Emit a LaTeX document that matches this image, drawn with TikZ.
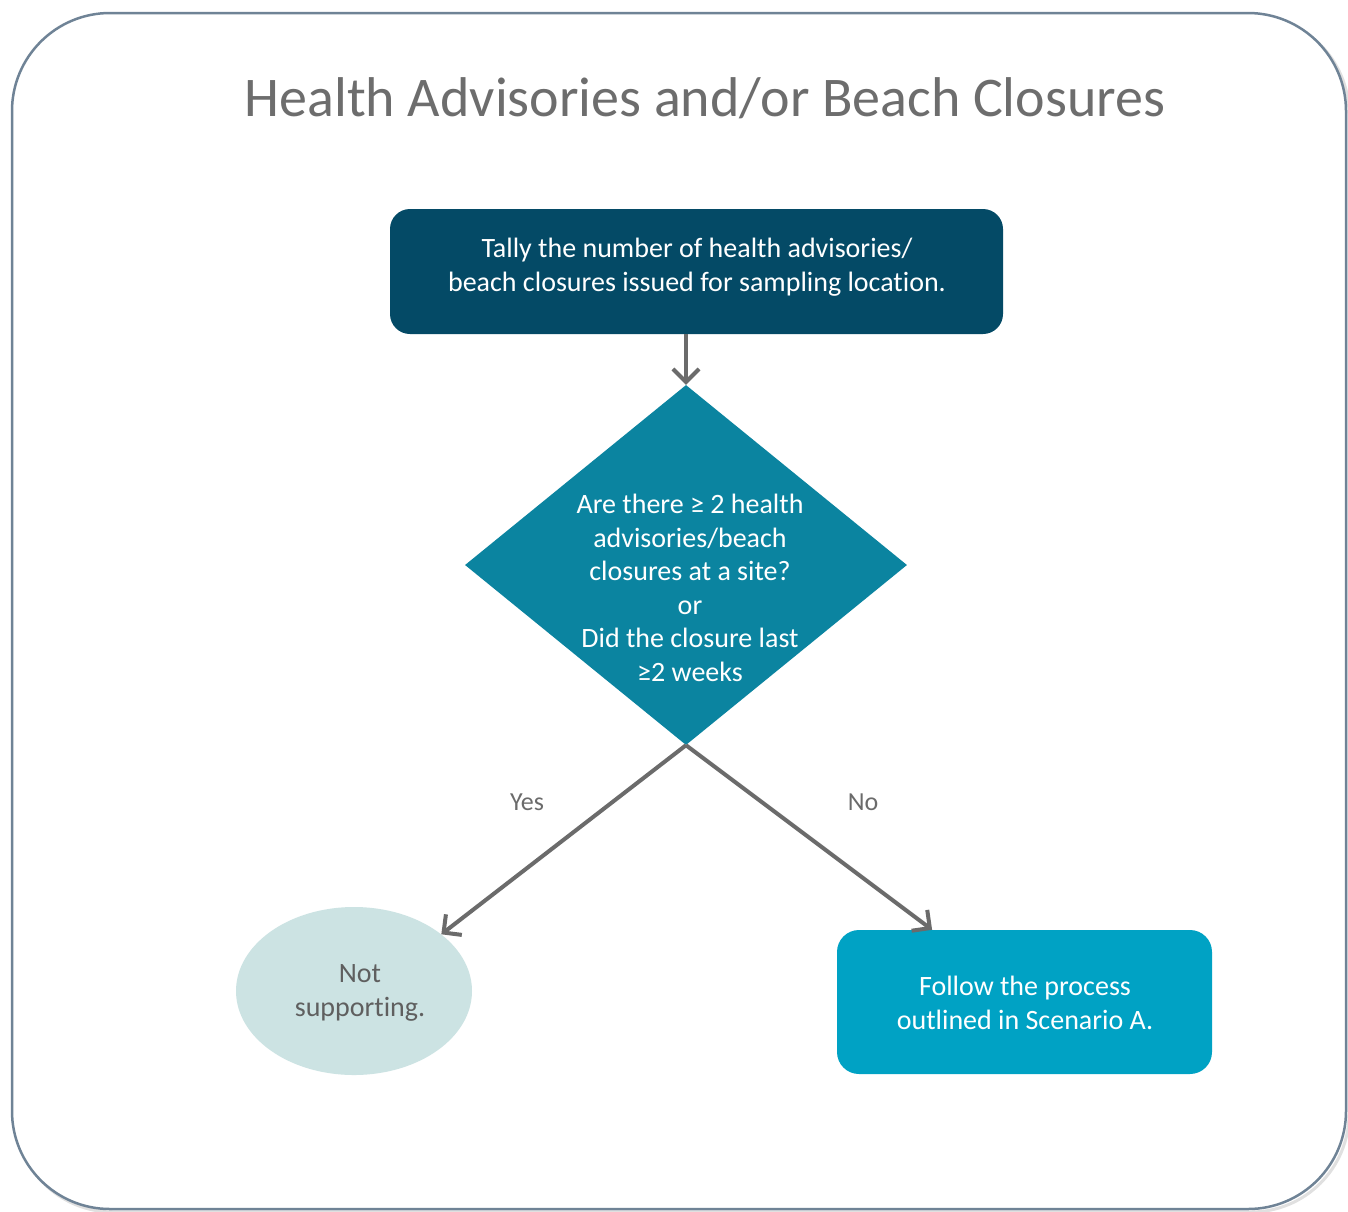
\documentclass[tikz,border=0pt]{standalone}
\usepackage{fontspec}
\setmainfont[Ligatures=NoCommon]{Carlito}
\usetikzlibrary{arrows.meta,shapes.geometric}
\definecolor{framec}{HTML}{6F8396}
\definecolor{titlec}{HTML}{6D6D6D}
\definecolor{darkteal}{HTML}{044A66}
\definecolor{midteal}{HTML}{0B84A0}
\definecolor{brightc}{HTML}{00A2C4}
\definecolor{palec}{HTML}{CCE3E3}
\definecolor{arrowc}{HTML}{6B6B6B}
\definecolor{greytext}{HTML}{5F5F5F}
\tikzset{
  boxstyle/.style={rounded corners=20pt, inner sep=0pt},
  txt/.style={align=center, inner sep=0pt, text=white, font=\fontsize{28}{33.5}\selectfont},
  flowarrow/.style={draw=arrowc, line width=4pt, -{Straight Barb[length=13pt,width=26pt,line width=4pt]}},
  lbl/.style={text=arrowc, font=\fontsize{26}{28}\selectfont, inner sep=0pt},
}
\begin{document}
\begin{tikzpicture}[x=1pt,y=-1pt]
\useasboundingbox (0,0) rectangle (1348,1211);
% frame with subtle shadow
\draw[line width=3pt, color=black!12, rounded corners=98pt] (15,16) rectangle (1349,1212);
\draw[line width=2.5pt, color=framec, rounded corners=98pt, fill=white] (12,13) rectangle (1346,1209);
\node[text=titlec, font=\fontsize{56}{60}\selectfont, inner sep=0pt] (title) at (705,98) {Health Advisories and/or Beach Closures};
\node[boxstyle, fill=darkteal, minimum width=613pt, minimum height=125pt] (tally) at (696.5,271.5) {};
\node[txt] (tallytext) at (697,267)
  {Tally the number of health advisories/\\beach closures issued for sampling location.};
\node[diamond, fill=midteal, inner sep=0pt, minimum width=442pt, minimum height=360pt] (dia) at (686,565) {};
\node[txt] (qtext) at (690,588)
  {Are there ≥ 2 health\\advisories/beach\\closures at a site?\\or\\Did the closure last\\≥2 weeks};
\node[ellipse, fill=palec, inner sep=0pt, minimum width=236pt, minimum height=168pt] (nots) at (354,991) {};
\node[txt, text=greytext] (nottext) at (360,993) {Not\\supporting.};
\node[boxstyle, rounded corners=22pt, fill=brightc, minimum width=375pt, minimum height=144pt] (follow) at (1024.5,1002) {};
\node[txt] (followtext) at (1025,1003) {Follow the process\\outlined in Scenario A.};
\draw[flowarrow] (dia.north |- tally.south) -- (dia.north);
\draw[flowarrow] (dia.south) -- (nots.33);
\draw[flowarrow] (dia.south) -- (follow.142);
\node[lbl] (yes) at (527,802) {Yes};
\node[lbl] (no) at (863,802) {No};
\end{tikzpicture}
\end{document}
